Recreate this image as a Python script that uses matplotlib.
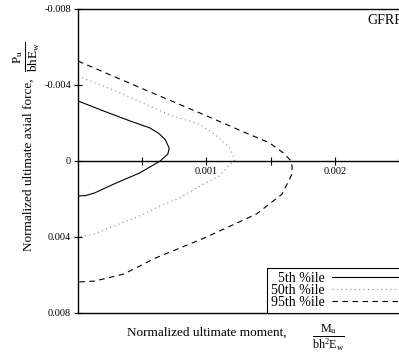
import numpy as np
import matplotlib
matplotlib.use('Agg')
from matplotlib import pyplot as plt

plt.rcParams['font.family'] = 'Liberation Serif'
plt.rcParams['mathtext.fontset'] = 'custom'
plt.rcParams['mathtext.rm'] = 'Liberation Serif'
plt.rcParams['mathtext.it'] = 'Liberation Serif:italic'
plt.rcParams['axes.unicode_minus'] = False

# normalized moment (x) and axial force (y)
m5 = [0, 0.0002, 0.0004, 0.00056, 0.00063, 0.00068, 0.00071, 0.0007, 0.00064, 0.00048, 0.00028, 0.00013, 0.00006, 0]
p5 = [-0.00316, -0.00263, -0.00212, -0.00174, -0.00145, -0.00112, -0.00068, -0.00037, 0, 0.00063, 0.00121, 0.00168, 0.00182, 0.00184]

m50 = [0, 0.000295, 0.000735, 0.00094, 0.00105, 0.00117, 0.0012, 0.00122, 0.00117, 0.0011, 0.00095,
       0.00079, 0.00064, 0.00048, 0.00028, 0.00013, 0]
p50 = [-0.00447, -0.00368, -0.00237, -0.00195, -0.00147, -0.00079, -0.00042, -0.00005, 0.00026, 0.00079, 0.00132,
       0.00195, 0.00237, 0.00289, 0.00342, 0.00384, 0.004]

m95 = [0, 0.00049, 0.001, 0.0013, 0.00149, 0.0016, 0.00166, 0.001667, 0.001667, 0.00159, 0.00139,
       0.000985, 0.000606, 0.000356, 0.000129, 0]
p95 = [-0.00526, -0.00384, -0.00238, -0.0015, -0.00096, -0.00042, 0, 0.0003, 0.00068, 0.00174, 0.00279,
       0.00405, 0.0051, 0.00595, 0.00632, 0.00637]

yticks = [-0.008, -0.004, 0, 0.004, 0.008]
yticklabels = ['-0.008', '-0.004', '0', '0.004', '0.008']
xticks = [0.001, 0.002]
xticklabels = ['0.001', '0.002']
xminor = [0.0005, 0.0015, 0.0025]

W, H = 399, 362
fig = plt.figure(figsize=(W/100, H/100), dpi=100)
ax = fig.add_axes([78/W, 1-313/H, 1-78/W, 304/H])

l5, = ax.plot(m5, p5, '-', color='k', lw=0.8)
l50, = ax.plot(m50, p50, color='#8a8a8a', lw=0.8, ls=(0, (1, 3)))
l95, = ax.plot(m95, p95, color='k', lw=0.8, ls=(0, (5, 4)))

ax.set_xlim(0, (W-78)/132000)
ax.set_ylim(0.008, -0.008)

ax.spines['right'].set_visible(False)
ax.spines['bottom'].set_position(('data', 0))
ax.spines['bottom'].set_linewidth(1.0)
ax.plot([0, 1], [0, 0], transform=ax.transAxes, color='k', lw=1.0, clip_on=False)
for s in ['left', 'top']:
    ax.spines[s].set_linewidth(1.0)

ax.set_yticks(yticks)
ax.set_yticklabels(yticklabels)
ax.set_xticks(xticks)
ax.set_xticklabels(xticklabels)
ax.set_xticks(xminor, minor=True)
ax.tick_params(axis='both', which='both', direction='inout', labelsize=7.5, width=0.8)
ax.tick_params(axis='x', which='major', length=6, pad=1)
ax.tick_params(axis='x', which='minor', length=6)
ax.tick_params(axis='y', length=6, pad=2)

# label is cut at the right edge, as in the source figure
ax.text(367/W, 1-20/H, 'GFRP', transform=fig.transFigure, fontsize=10, va='center', ha='left')

leg = ax.legend([l5, l50, l95], ['5th %ile', '50th %ile', '95th %ile'],
                loc='lower left', bbox_to_anchor=(267/W, 1-313/H), bbox_transform=fig.transFigure,
                markerfirst=False, handlelength=5, handletextpad=0.5, labelspacing=-0.08,
                fontsize=10, fancybox=False, framealpha=1, edgecolor='k', borderpad=0.3,
                borderaxespad=0)
leg.get_frame().set_linewidth(0.8)

fig.text(207/W, 1-333/H, 'Normalized ultimate moment,', fontsize=9.5, ha='center', va='center')
fig.text(328/W, 1-338/H, r'$\frac{\mathrm{M_u}}{\mathrm{bh^2E_w}}$', fontsize=12.5, ha='center', va='center')
fig.text(29/W, 1-165/H, 'Normalized ultimate axial force,', fontsize=9.5, ha='center', va='center', rotation=90)
fig.text(26/W, 1-57/H, r'$\frac{\mathrm{P_u}}{\mathrm{bhE_w}}$', fontsize=13.5, ha='center', va='center', rotation=90)

fig.savefig('out.png', dpi=100)
